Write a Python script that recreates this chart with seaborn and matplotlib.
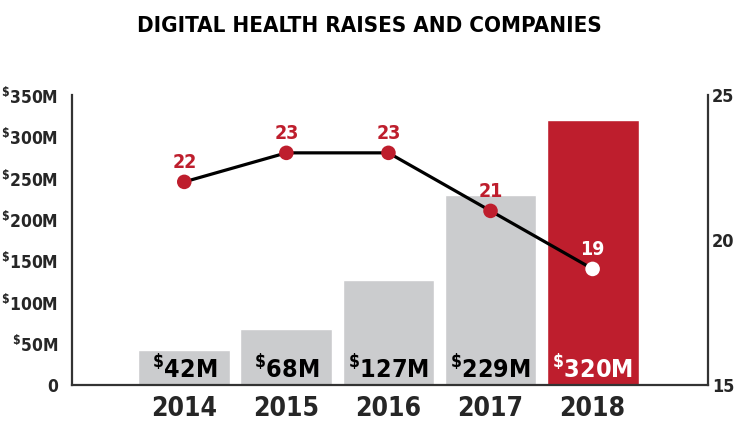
import numpy as np
import pandas as pd
import matplotlib
matplotlib.use("Agg")
import matplotlib.pyplot as plt
import seaborn as sns

years = ["2014", "2015", "2016", "2017", "2018"]
raised = [42, 68, 127, 229, 320]          # $M
companies = [22, 23, 23, 21, 19]
bar_labels = ["42M", "68M", "127M", "229M", "320M"]
left_ticks = [0, 50, 100, 150, 200, 250, 300, 350]
right_ticks = [15, 20, 25]

GRAY = "#CBCCCE"
RED = "#BE1E2D"

sns.set_style("white")
plt.rcParams["font.family"] = ["DejaVu Sans"]
plt.rcParams["font.stretch"] = "condensed"
plt.rcParams["font.weight"] = "bold"
plt.rcParams["mathtext.fontset"] = "custom"
plt.rcParams["mathtext.rm"] = "DejaVu Sans:bold"
plt.rcParams["mathtext.default"] = "rm"

df = pd.DataFrame({"year": years, "raised": raised, "companies": companies})

fig = plt.figure(figsize=(7.39, 4.41), dpi=100)
ax = fig.add_axes([0.0974, 0.127, 0.8606, 0.658])

bar_colors = [GRAY] * 4 + [RED]
sns.barplot(data=df, x="year", y="raised", hue="year", palette=bar_colors,
            legend=False, width=0.9, saturation=1, ax=ax)
ax.set_xlim(-1.1, 5.13)
ax.set_ylim(0, 350)
ax.set_yticks(left_ticks)
ax.set_yticklabels(["0"] + [r"$^{\$}$" + f"{t}M" for t in left_ticks[1:]])
ax.set_xlabel("")
ax.set_ylabel("")
ax.tick_params(axis="y", length=0, pad=10, labelsize=12.5)
ax.tick_params(axis="x", length=0, pad=8, labelsize=19)
for lab in ax.get_xticklabels() + ax.get_yticklabels():
    lab.set_fontweight("bold")
    lab.set_fontstretch("condensed")

for sp in ["top", "right"]:
    ax.spines[sp].set_visible(False)
for sp in ["left", "bottom"]:
    ax.spines[sp].set_color("#333333")
    ax.spines[sp].set_linewidth(1.6)

# value labels inside bars
for i, lab in enumerate(bar_labels):
    col = "white" if i == 4 else "black"
    ax.annotate(r"$^{\$}$" + lab, xy=(i, 0), xytext=(0, 1), textcoords="offset points",
                ha="center", va="bottom", fontsize=18, fontweight="bold",
                fontstretch="condensed", color=col)

# companies on secondary axis
ax2 = ax.twinx()
x_pos = np.arange(len(years))
sns.lineplot(x=x_pos, y=companies, color="black", linewidth=2.3, ax=ax2, zorder=2)
sns.scatterplot(x=x_pos, y=companies, hue=years, palette=[RED] * 4 + ["white"],
                s=110, edgecolor="none", legend=False, ax=ax2, zorder=3)
ax2.set_ylim(15, 25)
ax2.set_yticks(right_ticks)
ax2.tick_params(axis="y", length=0, pad=3, labelsize=13)
for lab in ax2.get_yticklabels():
    lab.set_fontweight("bold")
    lab.set_fontstretch("condensed")
for sp in ["top", "left", "bottom"]:
    ax2.spines[sp].set_visible(False)
ax2.spines["right"].set_color("#333333")
ax2.spines["right"].set_linewidth(1.6)
ax2.set_xlim(-1.1, 5.13)

for i, c in enumerate(companies):
    col = "white" if i == 4 else RED
    ax2.annotate(str(c), xy=(i, c), xytext=(0, 7), textcoords="offset points",
                 ha="center", va="bottom", fontsize=14, fontweight="bold",
                 fontstretch="condensed", color=col)

fig.text(0.5, 0.94, "DIGITAL HEALTH RAISES AND COMPANIES", ha="center", va="center",
         fontsize=16, fontweight="bold", fontstretch="condensed", color="black")

fig.savefig("out.png", dpi=100)
